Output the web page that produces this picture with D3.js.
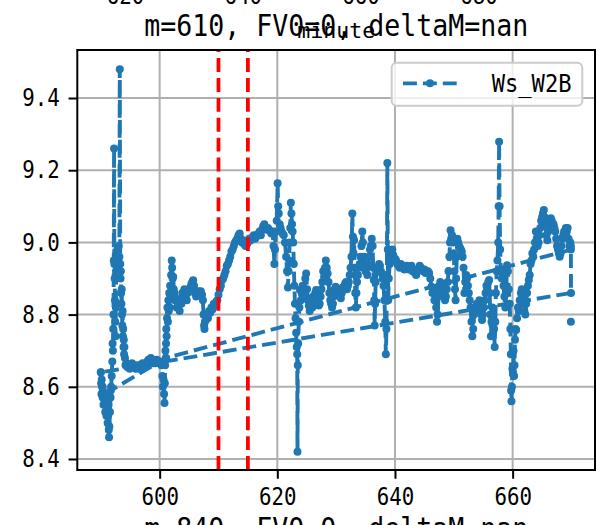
<!doctype html>
<html>
<head>
<meta charset="utf-8">
<style>
    body { margin: 0; background: #fff; }
    text { font-family: "DejaVu Sans Mono", "Liberation Mono", monospace; fill: #000; }
</style>
<script src="https://d3js.org/d3.v7.min.js"></script>
</head>
<body>
<svg width="597" height="525" id="chart"></svg>
<script>
// ---- data ----
var seriesName = "Ws_W2B";
var titleText = "m=610, FV0=0, deltaM=nan";
var nextTitleText = "m=840, FV0=0, deltaM=nan";
var prevXLabel = "minute";
var prevTickLabels = ["620", "640", "660", "680"];
var xTicks = [600, 620, 640, 660];
var yTicks = [8.4, 8.6, 8.8, 9.0, 9.2, 9.4];
var markerMinutes = [610, 615];

// first stretch: 590 - 601
var early = [[590.00,8.64],[590.05,8.61],[590.10,8.58],[590.15,8.62],[590.20,8.60],[590.30,8.57],[590.35,8.59],[590.45,8.55],[590.55,8.58],[590.65,8.56],[590.75,8.53],[590.85,8.55],[590.95,8.52],[591.05,8.54],[591.15,8.50],[591.25,8.52],[591.35,8.48],[591.40,8.46],[591.45,8.49],[591.55,8.53],[591.65,8.57],[591.75,8.60],[591.85,8.63],[591.95,8.67],[592.00,8.72],[592.05,8.70],[592.10,8.76],[592.15,8.80],[592.20,8.95],[592.25,9.26],[592.30,8.94],[592.35,8.90],[592.40,8.84],[592.45,8.78],[592.50,8.74],[592.55,8.82],[592.60,8.92],[592.65,8.97],[592.75,8.93],[592.85,8.98],[592.95,8.95],[593.05,8.99],[593.15,8.96],[593.22,9.48],[593.30,8.94],[593.35,8.90],[593.40,8.92],[593.45,8.86],[593.50,8.83],[593.55,8.87],[593.60,8.80],[593.65,8.77],[593.70,8.81],[593.75,8.74],[593.80,8.76],[593.85,8.71],[593.90,8.73],[593.95,8.69],[594.00,8.71],[594.10,8.68],[594.20,8.66],[594.35,8.665],[594.50,8.655],[594.70,8.66],[594.90,8.65],[595.10,8.66],[595.30,8.665],[595.50,8.655],[595.70,8.66],[595.90,8.65],[596.10,8.655],[596.30,8.66],[596.50,8.65],[596.70,8.66],[596.90,8.655],[597.10,8.665],[597.30,8.66],[597.50,8.655],[597.70,8.665],[597.90,8.67],[598.10,8.675],[598.30,8.67],[598.50,8.68],[598.70,8.675],[598.90,8.665],[599.10,8.67],[599.30,8.665],[599.50,8.675],[599.70,8.67],[599.90,8.665],[600.10,8.67],[600.30,8.66],[600.45,8.63],[600.55,8.60],[600.65,8.62],[600.75,8.58],[600.82,8.555],[600.88,8.61],[600.93,8.66],[600.98,8.70],[601.03,8.68],[601.08,8.72],[601.13,8.76],[601.18,8.74],[601.25,8.79],[601.32,8.82],[601.40,8.78],[601.48,8.84],[601.55,8.81],[601.62,8.86],[601.70,8.82],[601.78,8.88],[601.86,8.85],[601.95,8.91]];

// main stretch: 602 - 670
var main = [[602.05,8.95],[602.12,8.93],[602.20,8.90],[602.30,8.905],[602.40,8.87],[602.50,8.86],[602.62,8.84],[602.75,8.845],[602.90,8.82],[603.05,8.84],[603.20,8.83],[603.40,8.81],[603.55,8.84],[603.70,8.83],[603.85,8.86],[604.00,8.85],[604.20,8.87],[604.40,8.86],[604.60,8.84],[604.80,8.86],[605.00,8.87],[605.20,8.875],[605.40,8.885],[605.55,8.89],[605.70,8.895],[605.85,8.88],[606.00,8.86],[606.20,8.85],[606.40,8.855],[606.60,8.865],[606.80,8.86],[607.00,8.865],[607.20,8.855],[607.35,8.84],[607.45,8.80],[607.55,8.77],[607.62,8.76],[607.70,8.78],[607.85,8.785],[608.00,8.80],[608.20,8.79],[608.40,8.81],[608.60,8.805],[608.80,8.82],[609.00,8.815],[609.20,8.83],[609.40,8.825],[609.60,8.835],[609.80,8.84],[610.00,8.855],[610.20,8.87],[610.40,8.88],[610.60,8.895],[610.80,8.90],[611.00,8.91],[611.20,8.92],[611.40,8.935],[611.60,8.94],[611.80,8.95],[612.00,8.96],[612.20,8.975],[612.40,8.98],[612.60,8.99],[612.80,9.00],[613.00,9.005],[613.20,9.01],[613.40,9.02],[613.60,9.025],[613.80,9.01],[614.00,9.00],[614.20,9.005],[614.40,8.995],[614.60,8.99],[614.80,8.995],[615.00,9.00],[615.20,9.01],[615.40,9.005],[615.60,9.01],[615.80,9.015],[616.00,9.02],[616.20,9.01],[616.40,9.015],[616.60,9.02],[616.80,9.025],[617.00,9.03],[617.20,9.02],[617.40,9.035],[617.60,9.045],[617.80,9.05],[618.00,9.04],[618.20,9.035],[618.40,9.04],[618.60,9.035],[618.80,9.03],[619.00,9.025],[619.20,9.03],[619.35,8.99],[619.50,8.94],[619.60,8.98],[619.75,9.03],[619.90,9.06],[620.05,9.164],[620.15,9.10],[620.25,9.08],[620.40,9.05],[620.55,9.04],[620.70,9.03],[620.90,9.025],[621.10,9.02],[621.30,9.00],[621.50,8.96],[621.65,8.92],[621.80,8.875],[621.90,8.92],[622.00,8.95],[622.10,9.00],[622.20,9.04],[622.30,9.11],[622.40,9.08],[622.50,9.05],[622.60,9.03],[622.70,9.00],[622.80,8.94],[622.90,8.88],[623.00,8.83],[623.10,8.79],[623.20,8.75],[623.30,8.71],[623.38,8.69],[623.43,8.42],[623.48,8.66],[623.55,8.72],[623.65,8.78],[623.75,8.82],[623.85,8.868],[624.00,8.84],[624.15,8.86],[624.30,8.88],[624.45,8.85],[624.60,8.87],[624.75,8.90],[624.90,8.914],[625.05,8.87],[625.20,8.84],[625.35,8.825],[625.50,8.81],[625.65,8.83],[625.80,8.845],[625.95,8.82],[626.10,8.85],[626.30,8.835],[626.45,8.86],[626.60,8.868],[626.75,8.85],[626.90,8.84],[627.05,8.825],[627.20,8.83],[627.35,8.85],[627.50,8.87],[627.65,8.89],[627.80,8.92],[627.95,8.905],[628.10,8.93],[628.25,8.95],[628.40,8.93],[628.55,8.914],[628.70,8.89],[628.85,8.86],[629.00,8.84],[629.15,8.83],[629.30,8.82],[629.45,8.83],[629.60,8.85],[629.75,8.87],[629.90,8.877],[630.05,8.865],[630.20,8.855],[630.35,8.86],[630.50,8.87],[630.65,8.86],[630.80,8.845],[630.95,8.86],[631.10,8.875],[631.25,8.87],[631.40,8.88],[631.55,8.887],[631.70,8.89],[631.85,8.87],[632.00,8.88],[632.15,8.89],[632.30,8.91],[632.45,8.93],[632.60,8.96],[632.75,9.08],[632.85,9.016],[632.95,8.97],[633.05,9.007],[633.15,8.93],[633.25,8.86],[633.35,8.82],[633.45,8.86],[633.55,8.89],[633.70,8.91],[633.85,8.93],[634.00,8.94],[634.15,8.96],[634.30,8.99],[634.45,9.03],[634.55,9.00],[634.70,8.96],[634.85,8.93],[635.00,8.92],[635.15,8.93],[635.30,8.91],[635.45,8.94],[635.60,8.96],[635.75,8.98],[635.90,8.99],[636.05,9.01],[636.20,8.99],[636.30,8.93],[636.40,8.896],[636.48,8.84],[636.55,8.77],[636.62,8.83],[636.72,8.89],[636.85,8.92],[637.00,8.93],[637.15,8.925],[637.30,8.94],[637.45,8.935],[637.60,8.92],[637.75,8.914],[637.90,8.90],[638.05,8.88],[638.20,8.84],[638.35,8.78],[638.45,8.69],[638.55,8.76],[638.62,8.90],[638.70,9.22],[638.78,8.98],[638.85,8.84],[638.95,8.90],[639.10,8.94],[639.25,8.96],[639.40,8.97],[639.55,8.98],[639.70,8.965],[639.85,8.95],[640.00,8.955],[640.20,8.95],[640.40,8.94],[640.60,8.935],[640.80,8.93],[641.00,8.94],[641.20,8.935],[641.40,8.93],[641.60,8.925],[641.80,8.93],[642.00,8.935],[642.20,8.93],[642.40,8.925],[642.60,8.93],[642.80,8.935],[643.00,8.92],[643.20,8.925],[643.40,8.915],[643.60,8.91],[643.80,8.92],[644.00,8.925],[644.20,8.935],[644.40,8.93],[644.60,8.925],[644.80,8.92],[645.00,8.925],[645.20,8.915],[645.40,8.92],[645.60,8.92],[645.80,8.915],[646.00,8.90],[646.20,8.877],[646.35,8.86],[646.50,8.87],[646.70,8.84],[646.85,8.86],[647.00,8.82],[647.15,8.78],[647.25,8.80],[647.40,8.85],[647.55,8.88],[647.70,8.89],[647.85,8.87],[648.00,8.885],[648.15,8.87],[648.30,8.86],[648.50,8.84],[648.65,8.85],[648.80,8.87],[648.95,8.89],[649.10,8.92],[649.25,8.96],[649.35,9.00],[649.45,9.034],[649.55,9.01],[649.70,9.02],[649.85,9.00],[650.00,8.97],[650.10,8.92],[650.20,8.87],[650.30,8.84],[650.40,8.90],[650.50,8.96],[650.60,9.01],[650.75,9.00],[650.90,8.99],[651.05,8.985],[651.20,8.98],[651.35,8.975],[651.50,8.96],[651.65,8.93],[651.80,8.86],[651.95,8.89],[652.10,8.91],[652.25,8.90],[652.40,8.88],[652.55,8.86],[652.70,8.84],[652.85,8.82],[653.00,8.78],[653.15,8.74],[653.30,8.76],[653.45,8.80],[653.60,8.82],[653.75,8.81],[653.90,8.83],[654.05,8.82],[654.20,8.83],[654.35,8.84],[654.50,8.81],[654.65,8.80],[654.80,8.785],[654.95,8.80],[655.10,8.82],[655.25,8.84],[655.40,8.86],[655.55,8.88],[655.70,8.87],[655.85,8.89],[656.00,8.896],[656.10,8.86],[656.20,8.80],[656.30,8.74],[656.40,8.78],[656.55,8.82],[656.70,8.80],[656.85,8.76],[656.95,8.71],[657.05,8.78],[657.15,8.86],[657.30,8.92],[657.42,8.95],[657.55,9.00],[657.62,9.10],[657.70,9.279],[657.78,9.10],[657.88,8.98],[658.00,8.92],[658.15,8.90],[658.30,8.92],[658.45,8.88],[658.60,8.85],[658.75,8.82],[658.90,8.86],[659.05,8.937],[659.20,8.92],[659.35,8.87],[659.50,8.83],[659.62,8.76],[659.70,8.69],[659.75,8.59],[659.80,8.56],[659.88,8.60],[659.95,8.65],[660.05,8.64],[660.15,8.70],[660.25,8.63],[660.32,8.66],[660.40,8.73],[660.50,8.76],[660.60,8.757],[660.75,8.79],[660.90,8.82],[661.05,8.81],[661.20,8.84],[661.40,8.86],[661.55,8.87],[661.70,8.85],[661.85,8.83],[662.00,8.81],[662.15,8.80],[662.30,8.83],[662.45,8.86],[662.60,8.88],[662.75,8.896],[662.90,8.91],[663.05,8.94],[663.20,8.95],[663.35,8.97],[663.50,8.96],[663.65,8.98],[663.80,9.00],[663.95,9.03],[664.10,9.01],[664.25,8.99],[664.40,9.00],[664.55,9.02],[664.70,9.04],[664.85,9.06],[665.00,9.07],[665.15,9.08],[665.30,9.09],[665.45,9.07],[665.60,9.05],[665.75,9.02],[665.90,9.006],[666.05,9.03],[666.20,9.05],[666.35,9.06],[666.50,9.067],[666.65,9.06],[666.80,9.05],[666.95,9.05],[667.10,9.04],[667.25,9.03],[667.40,9.01],[667.55,8.99],[667.70,8.98],[667.85,8.97],[668.00,8.96],[668.15,8.97],[668.30,8.99],[668.45,9.01],[668.60,9.02],[668.75,9.03],[668.90,9.02],[669.05,9.04],[669.20,9.03],[669.35,9.04],[669.50,9.01],[669.65,8.99],[669.80,9.00],[669.90,8.99],[669.92,8.86]];

// out-of-order samples that draw the long straight dashes
var wrapBack = [[590.00,8.64],[590.30,8.60],[590.80,8.57],[591.30,8.55],[591.70,8.59],[601.10,8.68],[669.90,8.98]];
// lone sample with no neighbours
var lone = [[669.90,8.78]];

// ---- layout ----
var svg = d3.select("#chart"),
    plotL = 77.3, plotR = 595, plotT = 50, plotB = 470;

var xScale = d3.scaleLinear().domain([586, 674]).range([plotL, plotR]),
    yScale = d3.scaleLinear().domain([8.3695, 9.533]).range([plotB, plotT]);

var blue = "#1f77b4";

// text in the narrow half-width style of the original font
function label(g, str, x, y, size, charW, anchor) {
    return g.append("text")
        .attr("x", x).attr("y", y)
        .attr("font-size", size)
        .attr("text-anchor", anchor || "start")
        .attr("textLength", str.length * charW)
        .attr("lengthAdjust", "spacingAndGlyphs")
        .text(str);
}

//Leftovers of the neighbouring subplots
prevTickLabels.forEach(function(t, i) {
    label(svg, t, 125.5 + i * 117.8, 4, 24, 12.5, "middle");
});
label(svg, nextTitleText, (plotL + plotR) / 2, 539, 30, 16, "middle");

//Grid
var grid = svg.append("g");
grid.selectAll(".gx").data(xTicks).enter().append("line")
    .attr("x1", d => xScale(d)).attr("x2", d => xScale(d))
    .attr("y1", plotT).attr("y2", plotB)
    .attr("stroke", "#b0b0b0").attr("stroke-width", 2);
grid.selectAll(".gy").data(yTicks).enter().append("line")
    .attr("x1", plotL).attr("x2", plotR)
    .attr("y1", d => yScale(d)).attr("y2", d => yScale(d))
    .attr("stroke", "#b0b0b0").attr("stroke-width", 2);

//Series
svg.append("clipPath").attr("id", "plotArea")
    .append("rect").attr("x", plotL).attr("y", plotT)
    .attr("width", plotR - plotL).attr("height", plotB - plotT);

var plot = svg.append("g").attr("clip-path", "url(#plotArea)");
var path = early.concat(main, wrapBack);
var line = d3.line().x(d => xScale(d[0])).y(d => yScale(d[1]));

plot.append("path")
    .attr("d", line(path))
    .attr("fill", "none")
    .attr("stroke", blue)
    .attr("stroke-width", 3.9)
    .attr("stroke-dasharray", "13.9,6")
    .attr("stroke-linejoin", "round");

plot.selectAll(".dot")
    .data(path.concat(lone))
    .enter().append("circle")
    .attr("cx", d => xScale(d[0]))
    .attr("cy", d => yScale(d[1]))
    .attr("r", 4)
    .attr("fill", blue);

//Red marker lines
plot.selectAll(".vline").data(markerMinutes).enter().append("line")
    .attr("x1", d => xScale(d)).attr("x2", d => xScale(d))
    .attr("y1", plotB).attr("y2", plotT)
    .attr("stroke", "red")
    .attr("stroke-width", 3.75)
    .attr("stroke-dasharray", "13.9,6");

//Axes
var xAxis = svg.append("g")
    .attr("transform", "translate(0," + plotB + ")")
    .call(d3.axisBottom(xScale).tickValues(xTicks).tickSize(8.75).tickPadding(8.75));
var yAxis = svg.append("g")
    .attr("transform", "translate(" + plotL + ",0)")
    .call(d3.axisLeft(yScale).tickValues(yTicks).tickSize(8.75).tickPadding(8.75)
        .tickFormat(d3.format(".1f")));

[xAxis, yAxis].forEach(function(ax) {
    ax.select(".domain").remove();
    ax.selectAll(".tick line").attr("stroke", "#000").attr("stroke-width", 2);
    ax.selectAll(".tick text")
        .attr("font-family", "DejaVu Sans Mono")
        .attr("font-size", 24)
        .attr("fill", "#000")
        .attr("textLength", 37.5)
        .attr("lengthAdjust", "spacingAndGlyphs");
});

//Spines
svg.append("rect")
    .attr("x", plotL).attr("y", plotT)
    .attr("width", plotR - plotL).attr("height", plotB - plotT)
    .attr("fill", "none").attr("stroke", "#000").attr("stroke-width", 2);

//Title and the label of the plot above
label(svg, titleText, (plotL + plotR) / 2, 36, 30, 16, "middle");
label(svg, prevXLabel, (plotL + plotR) / 2, 38, 22, 13, "middle");

//Legend
var legend = svg.append("g");
legend.append("rect")
    .attr("x", 391.7).attr("y", 62.7)
    .attr("width", 190.6).attr("height", 43)
    .attr("rx", 5)
    .attr("fill", "#fff").attr("fill-opacity", 0.8)
    .attr("stroke", "#cccccc").attr("stroke-width", 2);
legend.append("line")
    .attr("x1", 403).attr("x2", 457).attr("y1", 83.3).attr("y2", 83.3)
    .attr("stroke", blue).attr("stroke-width", 3.75)
    .attr("stroke-dasharray", "13.9,6");
legend.append("circle")
    .attr("cx", 430).attr("cy", 83.3).attr("r", 4).attr("fill", blue);
label(legend, seriesName, 491.7, 92, 25, 13.3, "start");
</script>
</body>
</html>
